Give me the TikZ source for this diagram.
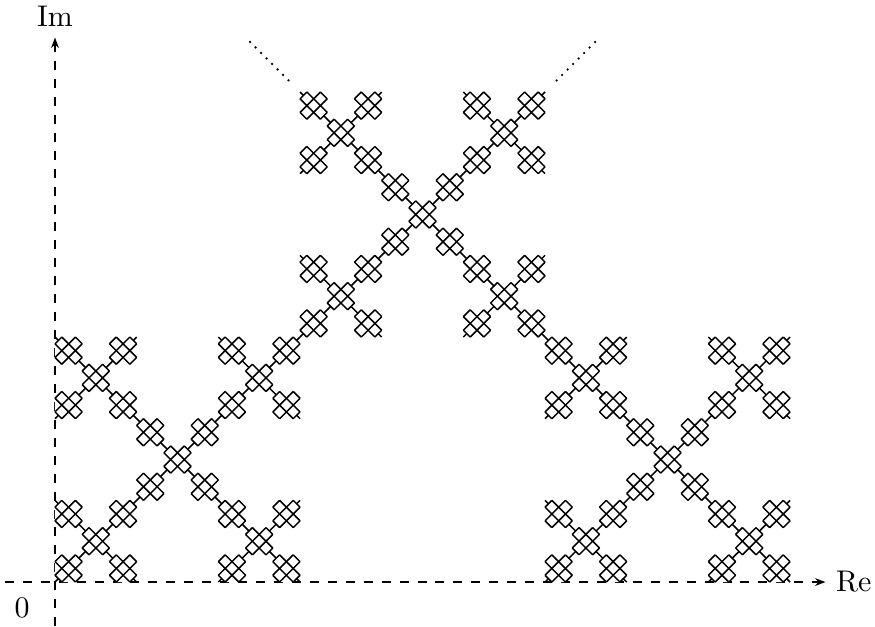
\documentclass[tikz,border=0pt]{standalone}
\usetikzlibrary{arrows.meta}
\begin{document}
\begin{tikzpicture}[x=0.32cm,y=0.32cm,
    line width=0.5pt,
    axis/.style={line width=0.4pt,dashed,-{Stealth[length=3.5pt]}},
    cell/.pic={
      \fill[white] (0.25,0) -- (0.75,0) -- (1,0.25) -- (1,0.75)
        -- (0.75,1) -- (0.25,1) -- (0,0.75) -- (0,0.25) -- cycle;
      \foreach \c in {0.25,0.75}
        \draw (0,\c) -- (\c,0) (1-\c,1) -- (1,1-\c)
          (0,\c) -- (1-\c,1) (\c,0) -- (1,1-\c);
    }]
    \useasboundingbox (-2.02,-1.62) rectangle (30.12,21.38);

    % axes
    \coordinate (xstart) at (-1.84,0);
    \coordinate (xtip) at (28.3,0);
    \coordinate (ystart) at (0,-1.62);
    \coordinate (ytip) at (0,20);
    \draw[axis] (xstart) -- (xtip);
    \draw[axis] (ystart) -- (ytip);
    \node[right] (re) at (xtip) {Re};
    \node[above] (im) at (ytip) {Im};
    \node (zero) at (-1.21,-0.96) {$0$};

    % three big blocks, five small X's each, five cells per X
    \foreach \bx/\by in {0/0,9/9,18/0}
      \foreach \mx/\my in {0/0,6/0,3/3,0/6,6/6} {
        \draw (\bx+\mx,\by+\my) -- ++(3,3);
        \draw (\bx+\mx,\by+\my+3) -- ++(3,-3);
      }
    \foreach \bx/\by in {0/0,9/9,18/0}
      \foreach \mx/\my in {0/0,6/0,3/3,0/6,6/6}
        \foreach \sx/\sy in {0/0,2/0,1/1,0/2,2/2}
          \pic at (\bx+\mx+\sx,\by+\my+\sy) {cell};

    % it goes on
    \coordinate (lfrom) at (8.6,18.4);
    \coordinate (lto) at (7,20);
    \coordinate (rfrom) at (18.4,18.4);
    \coordinate (rto) at (20,20);
    \draw[dotted,line width=0.6pt] (lfrom) -- (lto);
    \draw[dotted,line width=0.6pt] (rfrom) -- (rto);
\end{tikzpicture}
\end{document}
